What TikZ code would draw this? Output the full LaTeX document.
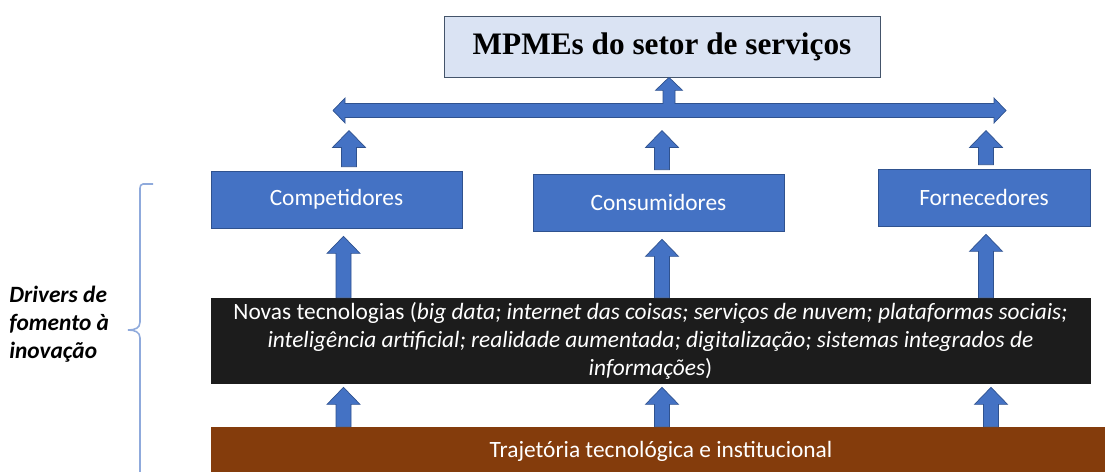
\documentclass[tikz,border=0pt]{standalone}
\usepackage{fontspec}
\setmainfont{Carlito}
\newfontfamily\titlefont{Liberation Serif}
\usetikzlibrary{calc}

\definecolor{boxblue}{HTML}{4472C4}
\definecolor{edgeblue}{HTML}{2F528F}
\definecolor{paleblue}{HTML}{DAE3F3}
\definecolor{titleedge}{HTML}{44546A}
\definecolor{bracecol}{HTML}{8FAADC}
\definecolor{brownbar}{HTML}{843C0C}
\definecolor{nearblack}{HTML}{1C1C1C}

\tikzset{
  actor/.style={draw=edgeblue, fill=boxblue, text=white, inner sep=0pt,
    minimum width=5.02cm, minimum height=1.14cm,
    font=\fontsize{13.3}{16}\selectfont},
  topbox/.style={draw=titleedge, fill=paleblue, inner sep=0pt,
    minimum width=8.72cm, minimum height=1.22cm,
    font=\titlefont\bfseries\fontsize{17.8}{20}\selectfont},
  techbox/.style={draw=nearblack, fill=nearblack, text=white, inner sep=0pt,
    minimum width=17.58cm, minimum height=1.7cm, align=center,
    font=\fontsize{13.3}{16}\selectfont},
  basebar/.style={fill=brownbar, text=white, inner sep=0pt,
    minimum width=18cm, minimum height=0.96cm,
    font=\fontsize{13.3}{16}\selectfont},
  drivers/.style={align=left, inner sep=0pt,
    font=\bfseries\itshape\fontsize{13.3}{15.9}\selectfont},
  fatarrow/.style={fill=boxblue, draw=edgeblue, line width=0.4pt},
}

% block arrow pointing up, from tail (#1) to tip (#2)
\newcommand{\fatup}[2]{%
  \path (#1) coordinate (ft) (#2) coordinate (fh);
  \filldraw[fatarrow] ($(ft)+(-\arrsw,0)$) -- ($(ft |- fh)+(-\arrsw,\arrhl)$)
    -- ($(ft |- fh)+(-\arrhw,\arrhl)$) -- (ft |- fh)
    -- ($(ft |- fh)+(\arrhw,\arrhl)$) -- ($(ft |- fh)+(\arrsw,\arrhl)$)
    -- ($(ft)+(\arrsw,0)$) -- cycle;}

\begin{document}
\begin{tikzpicture}[x=0.02cm,y=-0.02cm]

\useasboundingbox (0,0) rectangle (1105,471);

% arrow sizes (half shaft, half head, head length)
\def\arrsw{7.5}
\def\arrhw{16.5}
\def\arrhl{17}

% Boxes
\node[topbox] (mpme) at (662,46.5) {MPMEs do setor de serviços};
\node[actor] (comp) at (336.5,199.5) {Competidores};
\node[actor] (cons) at (658.5,202.5) {Consumidores};
\node[actor, minimum width=4.24cm] (forn) at (984,197.5) {Fornecedores};
\node[techbox] (nov) at (650.5,340.5) {Novas tecnologias (\textit{big data; internet das coisas; serviços de nuvem; plataformas sociais;}\\
  \textit{inteligência artificial; realidade aumentada; digitalização; sistemas integrados de}\\
  \textit{informações})};
\node[basebar] (traj) at (661,451) {Trajetória tecnológica e institucional};

% Side label and brace
\node[drivers, anchor=west] (drv) at (9,324) {Drivers de\\fomento à\\inovação};
\draw[bracecol, line width=0.9pt] (153,184) -- (143,184) to[out=180,in=90] (140,188)
  -- (140,322) .. controls (140,328) and (135,330) .. (128,330)
  .. controls (135,330) and (140,332) .. (140,338) -- (140,480);

% Double arrow with the arrow up into the top box
\coordinate (hl) at (333,110.5);
\coordinate (hr) at (1006,110.5);
\coordinate (top) at ($(mpme.south)+(7,0)$);
\filldraw[fatarrow] (hl) -- ($(hl)+(12,-12.5)$) -- ($(hl)+(12,-7)$)
  -- ($(top |- hl)+(-6,-7)$) -- ($(top)+(-6,13)$) -- ($(top)+(-13.5,13)$)
  -- (top) -- ($(top)+(13.5,13)$) -- ($(top)+(6,13)$) -- ($(top |- hl)+(6,-7)$)
  -- ($(hr)+(-12,-7)$) -- ($(hr)+(-12,-12.5)$) -- (hr) -- ($(hr)+(-12,12.5)$)
  -- ($(hr)+(-12,7)$) -- ($(hl)+(12,7)$) -- ($(hl)+(12,12.5)$) -- cycle;

% Arrows from the boxes up to the bar
\foreach \b/\dx in {comp/12.5, cons/3.5, forn/2} {
  \fatup{$(\b.north)+(\dx,-4)$}{$(hl -| \b)+(\dx,20)$}
}

% Arrows from the technologies up to the boxes
\foreach \b/\dx in {comp/7, cons/3.5, forn/2} {
  \fatup{$(nov.north -| \b)+(\dx,0)$}{$(\b.south)+(\dx,8)$}
}

% Arrows from the trajectory up to the technologies
\foreach \b/\dx in {comp/7, cons/3.5, forn/7} {
  \fatup{$(traj.north -| \b)+(\dx,0)$}{$(nov.south -| \b)+(\dx,4)$}
}

\end{tikzpicture}
\end{document}
